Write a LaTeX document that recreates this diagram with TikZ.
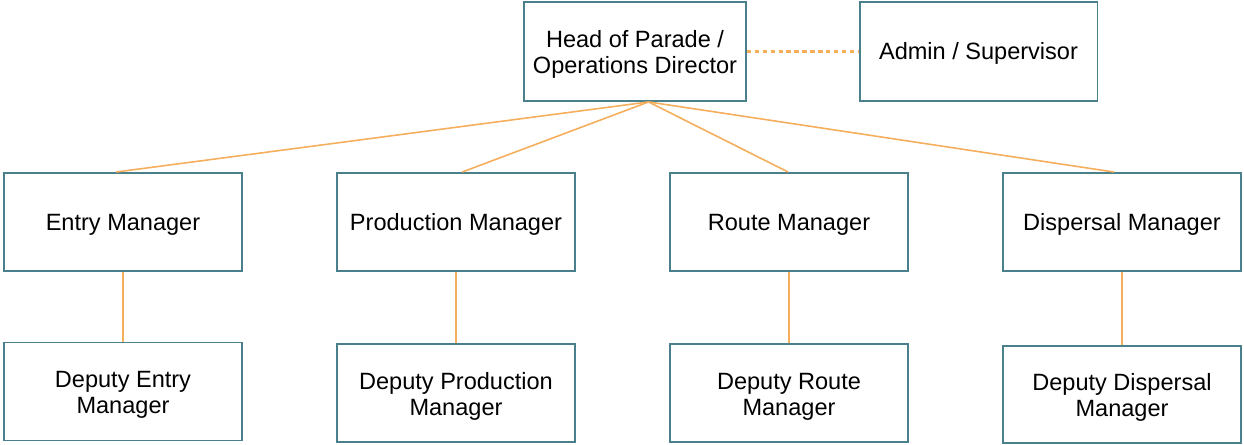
\documentclass[tikz,border=0pt]{standalone}
\usepackage{fontspec}
\setmainfont{Liberation Sans}
\definecolor{boxline}{HTML}{4A7F8C}
\definecolor{linkline}{HTML}{F4AE5C}
\tikzset{
  role/.style={draw=boxline,line width=1.1pt,fill=white,align=center,
    minimum width=4.76cm,minimum height=1.96cm,inner sep=2pt,
    font=\fontsize{13.4}{15}\selectfont,
    execute at begin node=\rule{0pt}{12.4pt},
    execute at end node=\rule[-3pt]{0pt}{0pt}},
  tworole/.style={role,execute at begin node=\rule{0pt}{28.6pt}},
  link/.style={draw=linkline,line width=0.9pt},
}
\begin{document}
\begin{tikzpicture}[x=0.02cm,y=-0.02cm]
      \useasboundingbox (0,0) rectangle (1244,445);
      \draw
        (635,51.5) node[tworole,minimum width=4.44cm,minimum height=1.98cm] (head){Head of Parade /\\Operations Director}
        (978.5,51.5) node[role,minimum height=1.98cm] (admin){Admin / Supervisor}
        (123,222) node[role] (entry){Entry Manager}
        (456,222) node[role] (prod){Production Manager}
        (789,222) node[role] (route){Route Manager}
        (1122,222) node[role] (disp){Dispersal Manager}
        (123,391.5) node[tworole] (dentry){Deputy Entry\\Manager}
        (456,393) node[tworole] (dprod){Deputy Production\\Manager}
        (789,393) node[tworole] (droute){Deputy Route\\Manager}
        (1122,394.5) node[tworole,minimum height=1.94cm] (ddisp){Deputy Dispersal\\Manager};
      \begin{scope}[link]
        \draw[line width=1.2pt,dash pattern=on 2.5pt off 2pt] (head.east) to (admin.west);
        \draw (head.-75) to (entry.98);
        \draw (head.-75) to (prod.83);
        \draw (head.-75) to (route.91);
        \draw (head.-75) to (disp.99);
        \draw (entry) to (dentry);
        \draw (prod) to (dprod);
        \draw (route) to (droute);
        \draw (disp) to (ddisp);
      \end{scope}
    \end{tikzpicture}
\end{document}
